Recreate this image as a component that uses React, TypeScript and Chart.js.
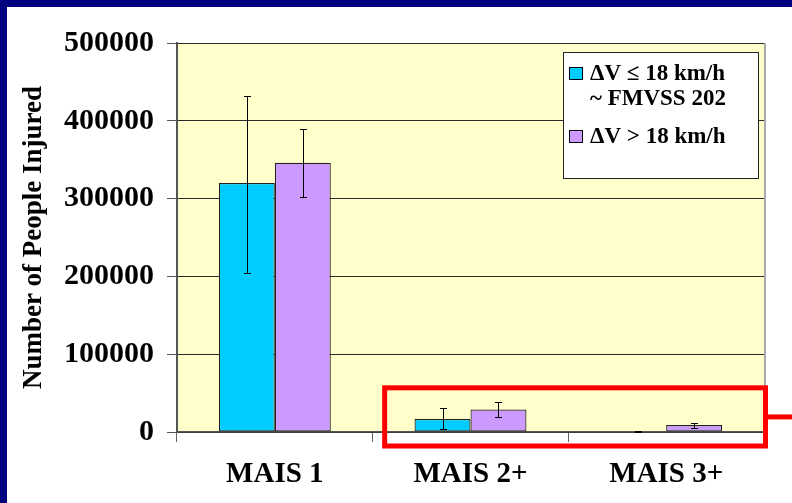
import { useEffect, useRef } from 'react';
import { Chart, registerables } from 'chart.js';

Chart.register(...registerables);

// ---- data ----
const categories = ['MAIS 1', 'MAIS 2+', 'MAIS 3+'];
const seriesLabels = ['ΔV ≤ 18 km/h', 'ΔV > 18 km/h'];
const seriesNote = '~ FMVSS 202';
const lowDeltaV = [320000, 16700, 700];
const lowDeltaVErrLow = [205000, 3500, 300];
const lowDeltaVErrHigh = [432000, 31000, 1100];
const highDeltaV = [346000, 29000, 9000];
const highDeltaVErrLow = [302000, 19700, 5500];
const highDeltaVErrHigh = [389500, 39000, 12000];
const yTicks = [0, 100000, 200000, 300000, 400000, 500000];
const yTitle = 'Number of People Injured';
const highlightTop = 60000;

const errLows = [lowDeltaVErrLow, highDeltaVErrLow];
const errHighs = [lowDeltaVErrHigh, highDeltaVErrHigh];
const colors = ['#00CCFF', '#CC99FF'];
const FONT = '"Liberation Serif", "Times New Roman", serif';

const decor = {
  id: 'decor',
  beforeDraw(chart: any) {
    const { ctx, chartArea: ca } = chart;
    ctx.save();
    ctx.fillStyle = '#FFFFCC';
    ctx.fillRect(ca.left, ca.top, ca.right - ca.left, ca.bottom - ca.top);
    ctx.restore();
  },
  afterDatasetsDraw(chart: any) {
    const { ctx } = chart;
    const y = chart.scales.y;
    ctx.save();
    ctx.strokeStyle = '#000';
    ctx.lineWidth = 1;
    chart.data.datasets.forEach((_ds: any, di: number) => {
      const meta = chart.getDatasetMeta(di);
      meta.data.forEach((bar: any, i: number) => {
        const x = Math.round(bar.x) + 0.5;
        const yh = Math.round(y.getPixelForValue(errHighs[di][i])) + 0.5;
        const yl = Math.round(y.getPixelForValue(errLows[di][i])) + 0.5;
        ctx.beginPath();
        ctx.moveTo(x, yh);
        ctx.lineTo(x, yl);
        ctx.moveTo(x - 3.5, yh);
        ctx.lineTo(x + 3.5, yh);
        ctx.moveTo(x - 3.5, yl);
        ctx.lineTo(x + 3.5, yl);
        ctx.stroke();
      });
    });
    ctx.restore();
  },
  afterDraw(chart: any) {
    const { ctx, chartArea: ca, width } = chart;
    const xs = chart.scales.x;
    const ys = chart.scales.y;
    ctx.save();
    // right border of plot
    ctx.strokeStyle = '#a8a8a8';
    ctx.lineWidth = 2;
    ctx.beginPath();
    ctx.moveTo(ca.right + 1, ca.top);
    ctx.lineTo(ca.right + 1, ca.bottom);
    ctx.stroke();

    // legend
    const bx = ca.right - 201;
    const by = ca.top + 9;
    const bw = 195;
    const bh = 126;
    ctx.fillStyle = '#ffffff';
    ctx.fillRect(bx, by, bw, bh);
    ctx.strokeStyle = '#222';
    ctx.lineWidth = 1;
    ctx.strokeRect(bx + 0.5, by + 0.5, bw, bh);
    ctx.font = 'bold 23px ' + FONT;
    ctx.textBaseline = 'alphabetic';
    ctx.textAlign = 'left';
    const baselines = [by + 28, by + 91];
    seriesLabels.forEach((lab, i) => {
      const bl = baselines[i];
      ctx.fillStyle = colors[i];
      ctx.fillRect(bx + 6, bl - 13, 14, 13);
      ctx.strokeStyle = '#000';
      ctx.strokeRect(bx + 6.5, bl - 12.5, 13, 12);
      ctx.fillStyle = '#000';
      ctx.fillText(lab, bx + 27, bl);
    });
    ctx.fillText(seriesNote, bx + 27, by + 53);

    // highlight annotation
    const boundary = (xs.getPixelForValue(0) + xs.getPixelForValue(1)) / 2;
    const left = boundary + 12;
    const top = ys.getPixelForValue(highlightTop) + 2.5;
    const right = ca.right + 1.5;
    const bottom = ca.bottom + 14;
    ctx.strokeStyle = '#FF0000';
    ctx.lineWidth = 5;
    ctx.strokeRect(left, top, right - left, bottom - top);
    ctx.beginPath();
    const mid = (top + bottom) / 2;
    ctx.moveTo(right + 2.5, mid);
    ctx.lineTo(width, mid);
    ctx.stroke();
    ctx.restore();
  },
};

export default function App() {
  const ref = useRef<HTMLCanvasElement>(null);
  useEffect(() => {
    const chart = new Chart(ref.current as HTMLCanvasElement, {
      type: 'bar',
      data: {
        labels: categories,
        datasets: [
          {
            label: seriesLabels[0],
            data: lowDeltaV,
            backgroundColor: colors[0],
            borderColor: '#222',
            borderWidth: 1.2,
            borderSkipped: false,
            categoryPercentage: 0.572,
            barPercentage: 1,
          },
          {
            label: seriesLabels[1],
            data: highDeltaV,
            backgroundColor: colors[1],
            borderColor: '#222',
            borderWidth: 1.2,
            borderSkipped: false,
            categoryPercentage: 0.572,
            barPercentage: 1,
          },
        ],
      },
      options: {
        animation: false,
        responsive: false,
        maintainAspectRatio: false,
        devicePixelRatio: 1,
        layout: { padding: { top: 43, right: 28, left: 0, bottom: 0 } },
        plugins: {
          legend: { display: false },
          tooltip: { enabled: false },
        },
        scales: {
          x: {
            grid: {
              display: true,
              drawOnChartArea: false,
              drawTicks: true,
              tickLength: 10,
              tickColor: '#666',
              offset: true,
            },
            border: { display: true, color: '#555', width: 1.5 },
            ticks: {
              color: '#000',
              padding: 15,
              font: { family: FONT, size: 29, weight: 'bold' },
              maxRotation: 0,
            },
            afterFit: (s: any) => {
              s.height = 71;
            },
          },
          y: {
            min: 0,
            max: 500000,
            afterBuildTicks: (s: any) => {
              s.ticks = yTicks.map((v) => ({ value: v }));
            },
            grid: {
              color: '#2a2a2a',
              lineWidth: 1,
              tickLength: 10,
              tickColor: '#555',
            },
            border: { display: true, color: '#555', width: 2 },
            ticks: {
              color: '#000',
              padding: 13,
              font: { family: FONT, size: 30, weight: 'bold' },
              callback: (v: any) => String(v),
            },
            title: {
              display: true,
              text: yTitle,
              color: '#000',
              font: { family: FONT, size: 27, weight: 'bold' },
              padding: { top: 18, bottom: 0 },
            },
            afterFit: (s: any) => {
              s.width = 177;
            },
          },
        },
      },
      plugins: [decor],
    } as any);
    return () => chart.destroy();
  }, []);
  return (
    <div
      style={{
        position: 'fixed',
        left: 0,
        top: 0,
        width: 792,
        height: 503,
        background: '#02027e',
        overflow: 'hidden',
      }}
    >
      <div style={{ position: 'absolute', left: 7, top: 7, right: 0, bottom: 0, background: '#ffffff' }} />
      <canvas
        ref={ref}
        width={792}
        height={503}
        style={{ position: 'absolute', left: 0, top: 0, width: 792, height: 503 }}
      />
    </div>
  );
}
